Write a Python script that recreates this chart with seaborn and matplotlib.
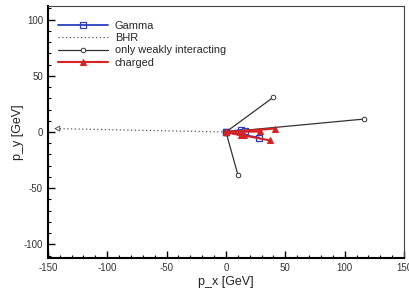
import matplotlib
matplotlib.use("Agg")
import matplotlib.pyplot as plt
import seaborn as sns
import numpy as np
import pandas as pd
from matplotlib.ticker import MultipleLocator

sns.set_style("white")
plt.rcParams['font.family'] = ['Liberation Sans', 'DejaVu Sans']
plt.rcParams['axes.unicode_minus'] = False

# endpoints of momentum vectors (origin at 0,0)
gamma_px = [13, 16, 28]
gamma_py = [2, 1, -5]
bhr_px = [-142]
bhr_py = [3]
weak_px = [40, 116, 10]
weak_py = [31, 11.5, -38]
charged_px = [41, 29, 13, 15, 37]
charged_py = [3, 0.5, -3, -3, -7.5]

def star(px, py):
    rows = []
    for i, (a, b) in enumerate(zip(px, py)):
        rows.append((i, 0, 0, 0))
        rows.append((i, 1, a, b))
    return pd.DataFrame(rows, columns=['seg', 'order', 'px', 'py'])

fig = plt.figure(figsize=(4.09, 3.07), dpi=100)
ax = fig.add_axes([0.117, 0.160, 0.871, 0.820])

common = dict(x='px', y='py', units='seg', estimator=None, sort=False, ax=ax)

sns.lineplot(data=star(gamma_px, gamma_py), color='#2a3fbf', lw=1.3, marker='s',
             markersize=4.3, markerfacecolor='none', markeredgecolor='#2a3fbf',
             markeredgewidth=0.9, label='Gamma', **common)
sns.lineplot(data=star(bhr_px, bhr_py), color='#555555', lw=0.9, linestyle=(0, (1, 2)),
             label='BHR', **common)
sns.scatterplot(x=bhr_px, y=bhr_py, ax=ax, marker='<', s=12, facecolor='none',
                edgecolor='#555555', linewidth=0.7)
sns.lineplot(data=star(weak_px, weak_py), color='#333333', lw=0.9, marker='o',
             markersize=3.3, markerfacecolor='white', markeredgecolor='#333333',
             markeredgewidth=0.7, label='only weakly interacting', **common)
sns.lineplot(data=star(charged_px, charged_py), color='#d62222', lw=1.5, marker='^',
             markersize=4.5, markerfacecolor='#d62222', markeredgecolor='#d62222',
             label='charged', **common)

ax.set_xlim(-150, 150)
ax.set_ylim(-112, 112)
ax.xaxis.set_major_locator(MultipleLocator(50))
ax.xaxis.set_minor_locator(MultipleLocator(10))
ax.yaxis.set_major_locator(MultipleLocator(50))
ax.yaxis.set_minor_locator(MultipleLocator(10))
ax.tick_params(which='both', direction='in', bottom=True, left=True, top=False, right=False,
               labelsize=7, labelcolor='#333333', color='black')
ax.tick_params(which='major', length=5, width=1)
ax.tick_params(which='minor', length=2.5, width=0.8)

for s in ['left', 'bottom']:
    ax.spines[s].set_linewidth(1.5)
    ax.spines[s].set_color('black')
for s in ['top', 'right']:
    ax.spines[s].set_linewidth(0.8)
    ax.spines[s].set_color('#444444')

ax.set_xlabel('p_x [GeV]', fontsize=9, color='#222222', labelpad=2)
ax.set_ylabel('p_y [GeV]', fontsize=9, color='#222222')
ax.yaxis.set_label_coords(-0.068, 0.5)

handles, labels = ax.get_legend_handles_labels()
uniq = {}
for h, l in zip(handles, labels):
    if l not in uniq:
        uniq[l] = h
leg = ax.legend(list(uniq.values()), list(uniq.keys()), loc='upper left', frameon=False,
                fontsize=7.9, handlelength=4.6, handletextpad=0.6, labelspacing=0.22,
                borderaxespad=0.5, bbox_to_anchor=(0.0, 0.982))

fig.savefig('out.png', dpi=100)
